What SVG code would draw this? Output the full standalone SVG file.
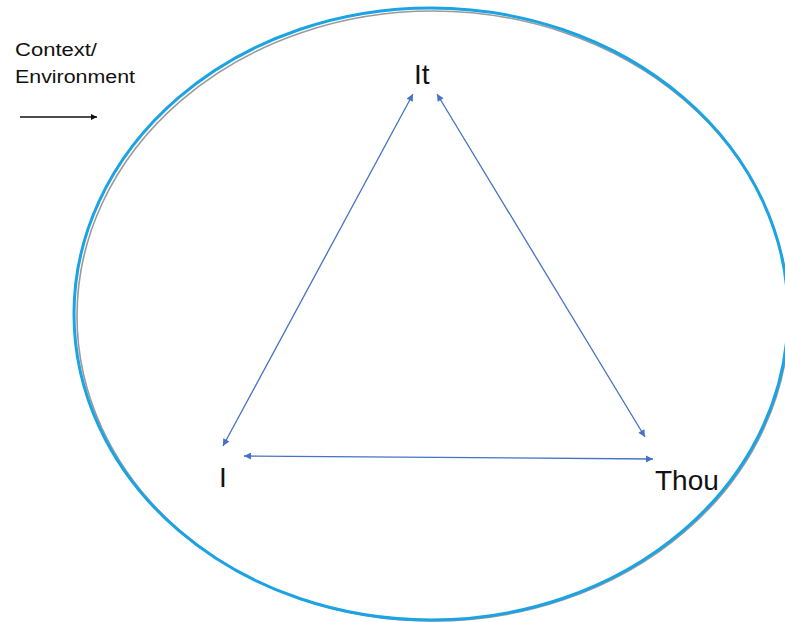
<svg xmlns="http://www.w3.org/2000/svg" width="785" height="622" viewBox="0 0 785 622">
<style>
.lbl{font-family:"Liberation Sans",Arial,sans-serif;fill:#111;}
.conn{stroke:#4472C4;stroke-width:1.3;fill:none;marker-start:url(#ah);marker-end:url(#ah);}
</style>
<defs>
<marker id="ah" viewBox="0 0 10 10" refX="10" refY="5" markerWidth="9" markerHeight="7" markerUnits="userSpaceOnUse" orient="auto-start-reverse">
<path d="M0,0 L10,5 L0,10 z" fill="#4472C4"/>
</marker>
<marker id="ahk" viewBox="0 0 10 10" refX="10" refY="5" markerWidth="8" markerHeight="6" markerUnits="userSpaceOnUse" orient="auto">
<path d="M0,0 L10,5 L0,10 z" fill="#111"/>
</marker>
</defs>
<rect width="785" height="622" fill="#fff"/>
<g id="environment">
<ellipse cx="433" cy="316" rx="356" ry="305" fill="none" stroke="#9a9a9a" stroke-width="1.6"/>
<ellipse cx="431" cy="314" rx="357" ry="306" fill="none" stroke="#1BA3E3" stroke-width="3"/>
</g>
<g id="context">
<text class="lbl" x="15" y="56" font-size="18" textLength="82" lengthAdjust="spacingAndGlyphs">Context/</text>
<text class="lbl" x="15" y="83" font-size="18" textLength="120" lengthAdjust="spacingAndGlyphs">Environment</text>
<line x1="20" y1="117" x2="97" y2="117" stroke="#111" stroke-width="1.3" marker-end="url(#ahk)"/>
</g>
<g id="node-it"><text class="lbl" x="414" y="84" font-size="28">It</text></g>
<g id="node-i"><text class="lbl" x="219" y="487" font-size="28">I</text></g>
<g id="node-thou"><text class="lbl" x="655" y="490" font-size="28">Thou</text></g>
<g id="connectors">
<line class="conn" x1="223" y1="446" x2="413" y2="94"/>
<line class="conn" x1="437" y1="94" x2="645" y2="437"/>
<line class="conn" x1="244" y1="456" x2="653" y2="459"/>
</g>
</svg>
